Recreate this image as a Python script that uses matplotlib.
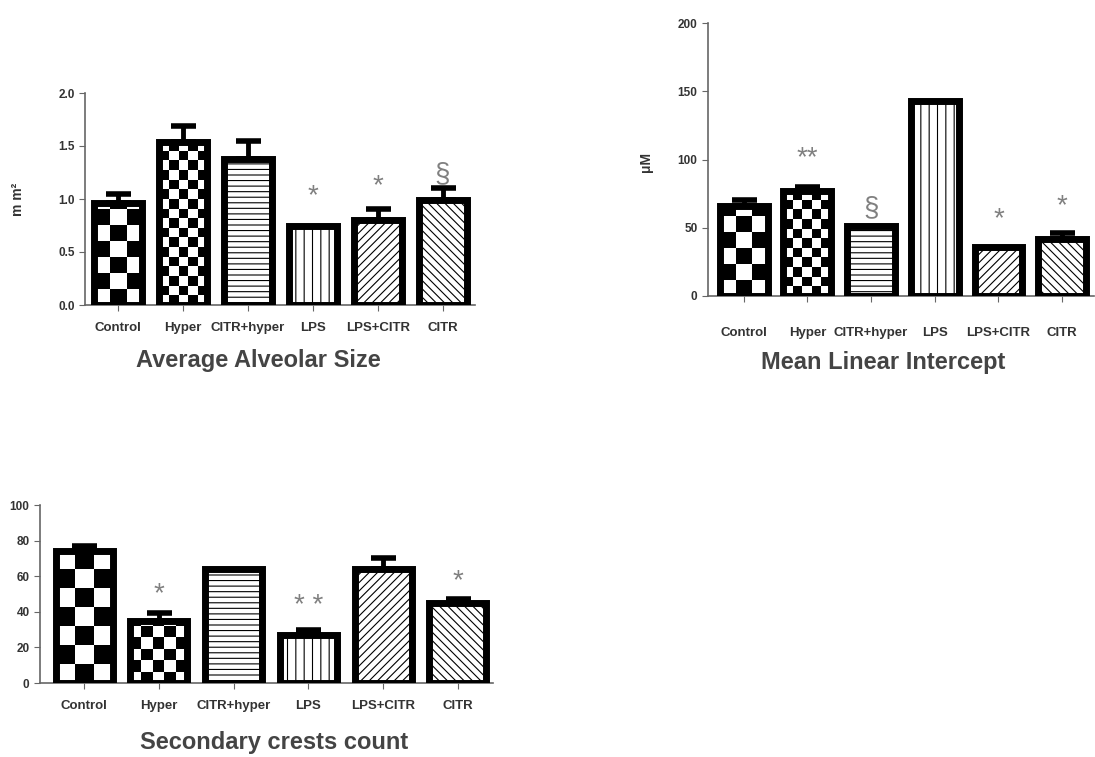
import numpy as np
import matplotlib.pyplot as plt

plt.rcParams['font.family'] = ['Liberation Sans', 'DejaVu Sans']
plt.rcParams['hatch.linewidth'] = 0.8

groups = ['Control', 'Hyper', 'CITR+hyper', 'LPS', 'LPS+CITR', 'CITR']

# Average alveolar size (mm2)
alv_mean = [0.96, 1.54, 1.38, 0.75, 0.80, 0.99]
alv_sem = [0.09, 0.15, 0.17, 0.0, 0.11, 0.11]
alv_marks = ['', '', '', '*', '*', '§']
alv_mark_y = [0, 0, 0, 1.03, 1.12, 1.23]

# Mean linear intercept (uM)
mli_mean = [66, 77, 51, 143, 36, 42]
mli_sem = [4, 3, 0, 0, 0, 4]
mli_marks = ['', '**', '§', '', '*', '*']
mli_mark_y = [0, 101, 64, 0, 56, 66]

# Secondary crests count
sc_mean = [74, 35, 64, 27, 64, 45]
sc_sem = [3, 4.5, 0, 3, 6, 2]
sc_marks = ['', '*', '', '* *', '', '*']
sc_mark_y = [0, 50, 0, 43, 0, 57]

# fill style per group: checker columns or hatch
fills = [('checker', 3), ('checker', 5), ('hatch', '---'),
         ('hatch', '||'), ('hatch', '////'), ('hatch', '\\\\\\\\')]

W, H = 1095, 757
fig = plt.figure(figsize=(W / 100, H / 100), dpi=100)


def px_axes(l, r, t, b):
    return fig.add_axes([l / W, 1 - b / H, (r - l) / W, (b - t) / H])


def checker_fill(ax, bar, ncols):
    x0, w, h = bar.get_x(), bar.get_width(), bar.get_height()
    p0 = ax.transData.transform((0, 0))
    p1 = ax.transData.transform((1, 1))
    cell_w = w / ncols
    cell_h = cell_w * (p1[0] - p0[0]) / (p1[1] - p0[1])
    nrows = int(np.ceil(h / cell_h))
    grid = np.indices((nrows, ncols)).sum(axis=0) % 2
    im = ax.imshow(grid, cmap='binary', extent=(x0, x0 + w, 0, nrows * cell_h),
                   origin='lower', aspect='auto', interpolation='nearest', zorder=2)
    im.set_clip_path(bar)


def panel(ax, means, sems, marks, mark_y, xlim, ylim, yticks, width, xpad):
    x = np.arange(len(groups))
    ax.set_xlim(*xlim)
    ax.set_ylim(*ylim)
    bars = ax.bar(x, means, width, color='white', edgecolor='black', linewidth=0, zorder=1)
    for b, (kind, val) in zip(bars, fills):
        if kind == 'checker':
            checker_fill(ax, b, val)
        else:
            b.set_hatch(val)
    ax.bar(x, means, width, facecolor='none', edgecolor='black', linewidth=5, zorder=3)
    has_err = [s > 0 for s in sems]
    ax.errorbar(x[has_err], np.array(means)[has_err],
                yerr=[np.zeros(sum(has_err)), np.array(sems)[has_err]],
                fmt='none', ecolor='black', elinewidth=3.5, capsize=9, capthick=4, zorder=3)
    for i, (m, yy) in enumerate(zip(marks, mark_y)):
        if m:
            ax.text(i, yy, m, ha='center', va='center', fontsize=20,
                    fontweight='light', color='#808080')
    ax.set_xlim(*xlim)
    ax.set_ylim(*ylim)
    ax.set_xticks(x)
    ax.set_xticklabels(groups, fontsize=9.5, fontweight='bold', color='#333333')
    ax.set_yticks(yticks)
    ax.tick_params(axis='x', length=4, color='#666666', pad=xpad)
    ax.tick_params(axis='y', length=4, color='#666666', labelsize=8.5, labelcolor='#333333')
    for lab in ax.get_yticklabels():
        lab.set_fontweight('bold')
    for s in ['top', 'right']:
        ax.spines[s].set_visible(False)
    for s in ['left', 'bottom']:
        ax.spines[s].set_color('#666666')
        ax.spines[s].set_linewidth(1.2)
    ax.patch.set_alpha(0)


ax1 = px_axes(85, 475, 93, 305)
panel(ax1, alv_mean, alv_sem, alv_marks, alv_mark_y, (-0.51, 5.5), (0, 2.0),
      [0.0, 0.5, 1.0, 1.5, 2.0], 0.74, 8)
ax1.set_yticklabels(['0.0', '0.5', '1.0', '1.5', '2.0'])
ax1.set_ylabel('m m²', fontsize=10, fontweight='bold', color='#333333')
ax1.yaxis.set_label_coords(-0.154, 0.5)

ax2 = px_axes(708, 1094, 23, 296)
panel(ax2, mli_mean, mli_sem, mli_marks, mli_mark_y, (-0.56, 5.5), (0, 200),
      [0, 50, 100, 150, 200], 0.75, 18)
ax2.set_ylabel('μM', fontsize=10, fontweight='bold', color='#333333')
ax2.yaxis.set_label_coords(-0.142, 0.49)

ax3 = px_axes(40, 493, 505, 683)
panel(ax3, sc_mean, sc_sem, sc_marks, sc_mark_y, (-0.59, 5.47), (0, 100),
      [0, 20, 40, 60, 80, 100], 0.76, 8)

title_kw = dict(ha='center', va='center', fontsize=17, fontweight='bold', color='#444444')
fig.text(258 / W, 1 - 360 / H, 'Average Alveolar Size', **title_kw)
fig.text(883 / W, 1 - 362 / H, 'Mean Linear Intercept', **title_kw)
fig.text(274 / W, 1 - 743 / H, 'Secondary crests count', **title_kw)

fig.savefig('out.png', dpi=100, facecolor='white')
